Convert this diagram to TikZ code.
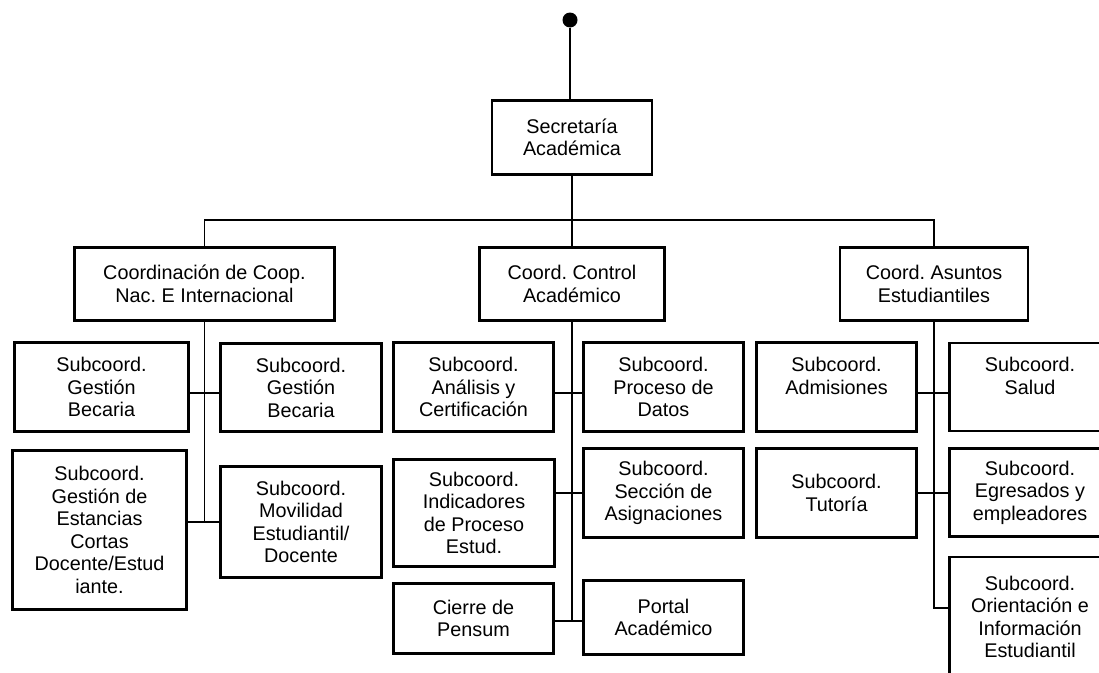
\documentclass[tikz,border=0pt]{standalone}
\usepackage{fontspec}
\setmainfont{Liberation Sans}
\usepackage{tikz}
\usetikzlibrary{positioning}
\frenchspacing

\begin{document}
\begin{tikzpicture}[x=1pt, y=-1pt, node distance=100pt, on grid, box/.style={rectangle, draw, line width=2.6pt, inner sep=0pt, align=center, font=\fontsize{19.8pt}{22.5pt}\selectfont}, sub/.style={box, minimum width=160pt, minimum height=89pt}, link/.style={line width=1.8pt}]

        \useasboundingbox (0,0) rectangle (1099,672);
        \clip (0,0) rectangle (1099,672);

        \node[circle, fill, inner sep=0pt, minimum size=15pt] (raiz) at (570,20) {};

        \node[box, minimum width=160pt, minimum height=74pt] (sec) at (572,137.5) {Secretaría\\Académica};

        % coordinaciones
        \node[box, minimum width=260pt, minimum height=73pt, below left=146.5pt and 367.5pt of sec] (coopNac) {Coordinación de Coop.\\Nac. E Internacional};
        \node[box, minimum width=185pt, minimum height=73pt, below=146.5pt of sec] (control) {Coord. Control\\Académico};
        \node[box, minimum width=188pt, minimum height=73pt, below right=146.5pt and 362pt of sec] (asuntos) {Coord. Asuntos\\Estudiantiles};

        % coop. nacional e internacional
        \node[sub, minimum width=174pt, below left=103pt and 103pt of coopNac] (gbecA) {Subcoord.\\Gestión\\Becaria};
        \node[sub, minimum width=161pt, minimum height=88pt, below right=103.5pt and 96.5pt of coopNac] (gbecB) {Subcoord.\\Gestión\\Becaria};
        \node[sub, minimum width=174pt, minimum height=159pt, below left=246pt and 105pt of coopNac] (estancias) {Subcoord.\\Gestión de\\Estancias\\Cortas\\Docente/Estud\\iante.};
        \node[sub, minimum width=161pt, minimum height=111pt, below right=238pt and 96.5pt of coopNac] (movilidad) {Subcoord.\\Movilidad\\Estudiantil/\\Docente};

        % control academico
        \node[sub, below left=103pt and 98.5pt of control] (analisis) {Subcoord.\\Análisis y\\Certificación};
        \node[sub, below right=103pt and 91.5pt of control] (procDatos) {Subcoord.\\Proceso de\\Datos};
        \node[sub, minimum width=161pt, minimum height=107pt, below left=229pt and 98pt of control] (indicadores) {Subcoord.\\Indicadores\\de Proceso\\Estud.};
        \node[sub, below right=209pt and 91.5pt of control] (seccion) {Subcoord.\\Sección de\\Asignaciones};
        \node[sub, minimum height=70pt, below left=334.5pt and 98.5pt of control] (cierre) {Cierre de\\Pensum};
        \node[sub, minimum height=74pt, below right=333.5pt and 91.5pt of control] (portal) {Portal\\Académico};

        % asuntos estudiantiles
        \node[sub, below left=103pt and 97.5pt of asuntos] (admisiones) {Subcoord.\\Admisiones\\~};
        \node[sub, minimum width=161pt, minimum height=88pt, below right=103pt and 96pt of asuntos] (salud) {Subcoord.\\Salud\\~};
        \node[sub, below left=209pt and 97.5pt of asuntos] (tutoria) {Subcoord.\\Tutoría};
        \node[sub, minimum width=161pt, minimum height=88pt, below right=208.5pt and 96pt of asuntos] (egresados) {Subcoord.\\Egresados y\\empleadores};
        \node[sub, minimum width=161pt, minimum height=120pt, below right=333pt and 96pt of asuntos] (orientacion) {Subcoord.\\Orientación e\\Información\\Estudiantil};

        % puntos de union
        \coordinate (bus) at (0,220);
        \coordinate[below=109pt of coopNac] (lA);
        \coordinate[below=238pt of coopNac] (lB);
        \coordinate[below=109pt of control] (mA);
        \coordinate[below=209pt of control] (mB);
        \coordinate[below=337pt of control] (mC);
        \coordinate[below=109pt of asuntos] (rA);
        \coordinate[below=209pt of asuntos] (rB);
        \coordinate[below=324pt of asuntos] (rC);

        \draw[link] (raiz) -- (raiz |- sec.north);
        \draw[link] (sec.south) -- (sec.south |- bus);
        \draw[link] (coopNac.north) |- (asuntos.north |- bus) -- (asuntos.north);
        \draw[link] (control.north) -- (control.north |- bus);

        \draw[link] (coopNac.south) -- (lB);
        \draw[link] (gbecA.east |- lA) -- (gbecB.west |- lA);
        \draw[link] (estancias.east |- lB) -- (movilidad.west |- lB);

        \draw[link] (control.south) -- (mC);
        \draw[link] (analisis.east |- mA) -- (procDatos.west |- mA);
        \draw[link] (indicadores.east |- mB) -- (seccion.west |- mB);
        \draw[link] (cierre.east |- mC) -- (portal.west |- mC);

        \draw[link] (asuntos.south) -- (rC) -- (orientacion.west |- rC);
        \draw[link] (admisiones.east |- rA) -- (salud.west |- rA);
        \draw[link] (tutoria.east |- rB) -- (egresados.west |- rB);

    \end{tikzpicture}
\end{document}
